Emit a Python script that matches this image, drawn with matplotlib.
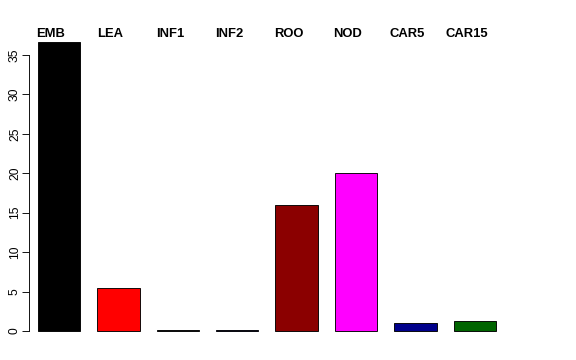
"""Barras por tejido, estilo barplot de R."""

import matplotlib

matplotlib.use("Agg")
import matplotlib.pyplot as plt


TEJIDOS = ["EMB", "LEA", "INF1", "INF2", "ROO", "NOD", "CAR5", "CAR15"]
VALORES = [36.6, 5.4, 0.1, 0.1, 16.0, 20.0, 0.95, 1.27]
COLORES = ["#000000", "#FF0000", "#1a1a1a", "#00008B", "#8B0000", "#FF00FF", "#00008B", "#006400"]
MARCAS_Y = [0, 5, 10, 15, 20, 25, 30, 35]

ESPACIO = 0.4
ANCHO = 1.0


def main():
    plt.rcParams["font.family"] = ["Liberation Sans", "DejaVu Sans"]
    fig = plt.figure(figsize=(8, 5), dpi=72)

    # posicion del panel en pixeles (576 x 360)
    izq, der, abajo, arriba = 29.0, 512.0, 342.5, 30.8
    ax = fig.add_axes([izq / 576, (360 - abajo) / 360, (der - izq) / 576, (abajo - arriba) / 360])

    centros = [ESPACIO + i * (ANCHO + ESPACIO) + ANCHO / 2 for i in range(len(TEJIDOS))]
    ax.bar(centros, VALORES, width=ANCHO, color=COLORES, edgecolor="black", linewidth=0.9)

    px_por_unidad = 59.4 / (ANCHO + ESPACIO)
    x0 = ESPACIO - (37.8 - izq) / px_por_unidad
    ax.set_xlim(x0, x0 + (der - izq) / px_por_unidad)
    ymax = max(VALORES)
    ax.set_ylim(-0.04 * ymax, 1.04 * ymax)

    for x, nombre in zip(centros, TEJIDOS):
        ax.text(x - 0.19, 37.3, nombre, ha="center", va="baseline",
                fontsize=13, fontweight="bold", clip_on=False)

    for lado in ["top", "right", "bottom"]:
        ax.spines[lado].set_visible(False)
    ax.spines["left"].set_bounds(0, 35)
    ax.spines["left"].set_linewidth(0.9)
    ax.set_xticks([])
    ax.set_yticks(MARCAS_Y)
    ax.set_yticklabels([str(v) for v in MARCAS_Y], rotation=90, va="center", fontsize=12)
    ax.tick_params(axis="y", length=7, width=0.9, pad=1)

    fig.savefig("out.png", dpi=72)
    plt.close(fig)


if __name__ == "__main__":
    main()
